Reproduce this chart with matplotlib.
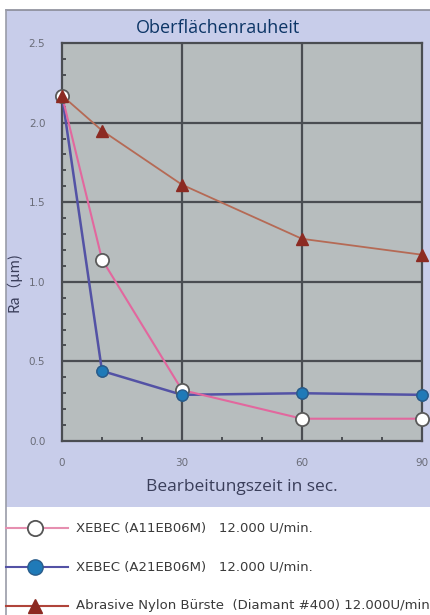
import matplotlib
matplotlib.use("Agg")
import matplotlib.pyplot as plt
from matplotlib.patches import Rectangle
from matplotlib.lines import Line2D

# Data
times = [0, 10, 30, 60, 90]
xebec_a11 = [2.17, 1.14, 0.32, 0.14, 0.14]
xebec_a21 = [2.17, 0.44, 0.29, 0.30, 0.29]
nylon = [2.17, 1.95, 1.61, 1.27, 1.17]
x_ticks = [0, 30, 60, 90]
y_ticks = [0.0, 0.5, 1.0, 1.5, 2.0, 2.5]
labels = ["XEBEC (A11EB06M)   12.000 U/min.",
          "XEBEC (A21EB06M)   12.000 U/min.",
          "Abrasive Nylon Bürste  (Diamant #400) 12.000U/min"]

W, H = 430, 615
fig = plt.figure(figsize=(W/100, H/100), dpi=100)
fig.patch.set_facecolor("white")

def fx(px): return px / W
def fy(py): return 1 - py / H

# background panel
fig.add_artist(Rectangle((fx(6), fy(507)), 1, (507-10)/H, transform=fig.transFigure,
                         facecolor="#c8cdea", edgecolor="none", zorder=0))
fig.add_artist(Line2D([fx(6), 1], [fy(10), fy(10)], transform=fig.transFigure, color="#8a8c98", lw=1.2))
fig.add_artist(Line2D([fx(6), fx(6)], [fy(10), 0], transform=fig.transFigure, color="#9a9ca8", lw=1.2))

ax = fig.add_axes([fx(62), fy(441), (422-62)/W, (441-43)/H])
ax.set_facecolor("#b7bdbe")
ax.set_xlim(0, 90)
ax.set_ylim(0, 2.5)

for v in [30, 60]:
    ax.axvline(v, color="#4a4d52", lw=1.6, zorder=1)
for v in [0.5, 1.0, 1.5, 2.0]:
    ax.axhline(v, color="#4a4d52", lw=1.6, zorder=1)

ax.plot(times, xebec_a21, color="#5352a5", lw=1.8, marker="o", ms=8,
        mfc="#1f7ab8", mec="#2a5c8a", zorder=3, clip_on=False, markevery=[1, 2, 3, 4])
ax.plot(times, xebec_a11, color="#e2679e", lw=1.5, marker="o", ms=9.5,
        mfc="white", mec="#5a5a5a", mew=1.3, zorder=3.5, clip_on=False)
ax.plot(times[1:], xebec_a21[1:], lw=0, marker="o", ms=8,
        mfc="#1f7ab8", mec="#2a5c8a", zorder=4, clip_on=False)
ax.plot(times, nylon, color="#b56a55", lw=1.3, marker="^", ms=8,
        mfc="#8c2a22", mec="#8c2a22", zorder=5, clip_on=False)

for s in ax.spines.values():
    s.set_color("#4a4d52")
    s.set_linewidth(1.6)

ax.set_xticks(x_ticks)
ax.set_xticklabels([str(v) for v in x_ticks])
ax.set_yticks(y_ticks)
ax.set_yticklabels([f"{v:.1f}" for v in y_ticks])
ax.set_xticks(range(0, 91, 10), minor=True)
ax.set_yticks([i/10 for i in range(0, 26)], minor=True)
ax.tick_params(axis="both", which="both", direction="in", color="#3a3c40")
ax.tick_params(axis="both", which="major", length=0, labelsize=7.5, labelcolor="#6a6c78")
ax.tick_params(axis="x", which="major", pad=12)
ax.tick_params(axis="y", which="major", pad=12)
ax.tick_params(axis="both", which="minor", length=3, width=1.2)

fig.text(fx(218), fy(28), "Oberflächenrauheit", ha="center", va="center",
         fontsize=13, color="#0c3566", family="Open Sans")
fig.text(fx(242), fy(487), "Bearbeitungszeit in sec.", ha="center", va="center",
         fontsize=12.5, color="#3a3e5a", family="Open Sans")
fig.text(fx(14), fy(282), "Ra（μm)", ha="center", va="center", rotation=90,
         fontsize=10.5, color="#3a3e5a", family=["Noto Sans CJK JP", "DejaVu Sans"])

# legend
rows = [528, 567, 606]
styles = [
    dict(color="#e68fb0", marker="o", ms=11, mfc="white", mec="#555555", mew=1.3),
    dict(color="#5352a5", marker="o", ms=11, mfc="#1f7ab8", mec="#2a5c8a", mew=1.0),
    dict(color="#b0443a", marker="^", ms=10, mfc="#8c2a22", mec="#8c2a22", mew=1.0),
]
for y, st, lab in zip(rows, styles, labels):
    fig.add_artist(Line2D([fx(6), fx(68)], [fy(y), fy(y)], transform=fig.transFigure,
                          color=st["color"], lw=1.5))
    fig.add_artist(Line2D([fx(35)], [fy(y)], transform=fig.transFigure, lw=0,
                          marker=st["marker"], ms=st["ms"], mfc=st["mfc"], mec=st["mec"], mew=st["mew"]))
    fig.text(fx(76), fy(y), lab, ha="left", va="center", fontsize=9.5,
             color="#3a3a3a", family="Liberation Sans Narrow")

fig.savefig("out.png", dpi=100, facecolor="white")
